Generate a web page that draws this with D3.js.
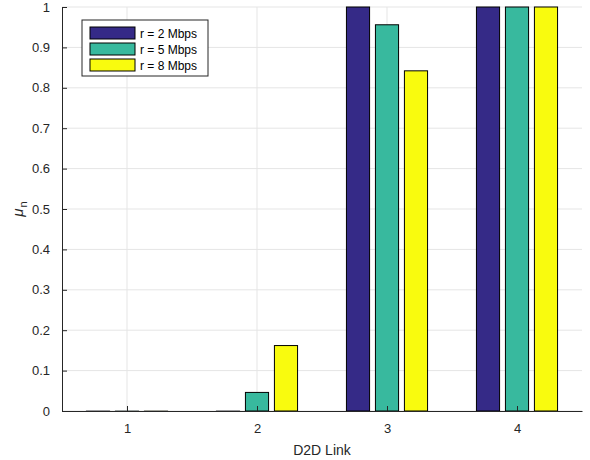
<!DOCTYPE html>
<html>
<head>
<meta charset="utf-8">
<script src="https://cdn.jsdelivr.net/npm/d3@7"></script>
<style>
  body { margin: 0; background: #fff; }
  text { font-family: "Liberation Sans", Arial, sans-serif; }
</style>
</head>
<body>
<div id="chart"></div>
<script>
// data
const links = [1, 2, 3, 4];
const seriesNames = ["r = 2 Mbps", "r = 5 Mbps", "r = 8 Mbps"];
const r2 = [0.001, 0.001, 1, 1];
const r5 = [0.001, 0.046, 0.956, 1];
const r8 = [0.001, 0.162, 0.842, 1];
const yTicks = [0, 0.1, 0.2, 0.3, 0.4, 0.5, 0.6, 0.7, 0.8, 0.9, 1];
const colors = ["#352a87", "#38b99e", "#f9fb0e"];

const width = 590;
const height = 460;
const margin = { left: 62, right: 8, top: 7, bottom: 49 };

const svg = d3.select("#chart")
    .append("svg")
    .attr("width", width)
    .attr("height", height);

const x = d3.scaleLinear().domain([0.5, 4.5]).range([margin.left, width - margin.right]);
const y = d3.scaleLinear().domain([0, 1]).range([height - margin.bottom, margin.top]);

// grid
svg.append("g").selectAll("line")
    .data(yTicks)
    .enter().append("line")
    .attr("x1", x(0.5)).attr("x2", x(4.5))
    .attr("y1", d => y(d)).attr("y2", d => y(d))
    .attr("stroke", "#e5e5e5");

svg.append("g").selectAll("line")
    .data(links)
    .enter().append("line")
    .attr("x1", d => x(d)).attr("x2", d => x(d))
    .attr("y1", y(0)).attr("y2", y(1))
    .attr("stroke", "#e5e5e5");

// bars
const allSeries = [r2, r5, r8];
const offset = 0.223;
const barW = 0.178;

allSeries.forEach((vals, i) => {
    svg.append("g").selectAll("rect")
        .data(links)
        .enter().append("rect")
        .attr("x", (d, j) => x(d + (i - 1) * offset - barW / 2))
        .attr("width", x(barW) - x(0))
        .attr("y", (d, j) => y(vals[j]))
        .attr("height", (d, j) => y(0) - y(vals[j]))
        .attr("fill", colors[i])
        .attr("stroke", (d, j) => vals[j] < 0.01 ? "#999" : "#000")
        .attr("stroke-width", 1);
});

// axes
const yAxis = d3.axisLeft(y)
    .tickValues(yTicks)
    .tickFormat(d3.format("~g"))
    .tickSizeInner(-5)
    .tickSizeOuter(0)
    .tickPadding(12);

const yg = svg.append("g")
    .attr("transform", `translate(${x(0.5)},0)`)
    .call(yAxis);

const xAxis = d3.axisBottom(x)
    .tickValues(links)
    .tickFormat(d3.format("d"))
    .tickSizeInner(-5)
    .tickSizeOuter(0)
    .tickPadding(13);

const xg = svg.append("g")
    .attr("transform", `translate(0,${y(0)})`)
    .call(xAxis);

[yg, xg].forEach(g => {
    g.select(".domain").attr("stroke", "#262626");
    g.selectAll(".tick line").attr("stroke", "#262626");
    g.selectAll(".tick text")
        .attr("fill", "#262626")
        .style("font-size", "13px");
});

// labels
svg.append("text")
    .attr("x", x(2.5))
    .attr("y", 455)
    .attr("text-anchor", "middle")
    .style("font-size", "14px")
    .attr("fill", "#262626")
    .text("D2D Link");

const yl = svg.append("text")
    .attr("transform", `translate(23,${y(0.5)}) rotate(-90)`)
    .attr("text-anchor", "middle")
    .attr("fill", "#262626")
    .style("font-size", "15px");
yl.append("tspan").style("font-style", "italic").text("μ");
yl.append("tspan").attr("dy", 4).attr("dx", 1).style("font-size", "11px").text("n");

// legend
const legend = svg.append("g").attr("transform", "translate(82,20)");
legend.append("rect")
    .attr("width", 126).attr("height", 56)
    .attr("fill", "#fff").attr("stroke", "#262626");

seriesNames.forEach((name, i) => {
    const row = legend.append("g").attr("transform", `translate(8,${7 + i * 16})`);
    row.append("rect")
        .attr("width", 45).attr("height", 12)
        .attr("fill", colors[i]).attr("stroke", "#000");
    row.append("text")
        .attr("x", 50).attr("y", 11)
        .style("font-size", "12px")
        .attr("fill", "#000")
        .text(name);
});
</script>
</body>
</html>
